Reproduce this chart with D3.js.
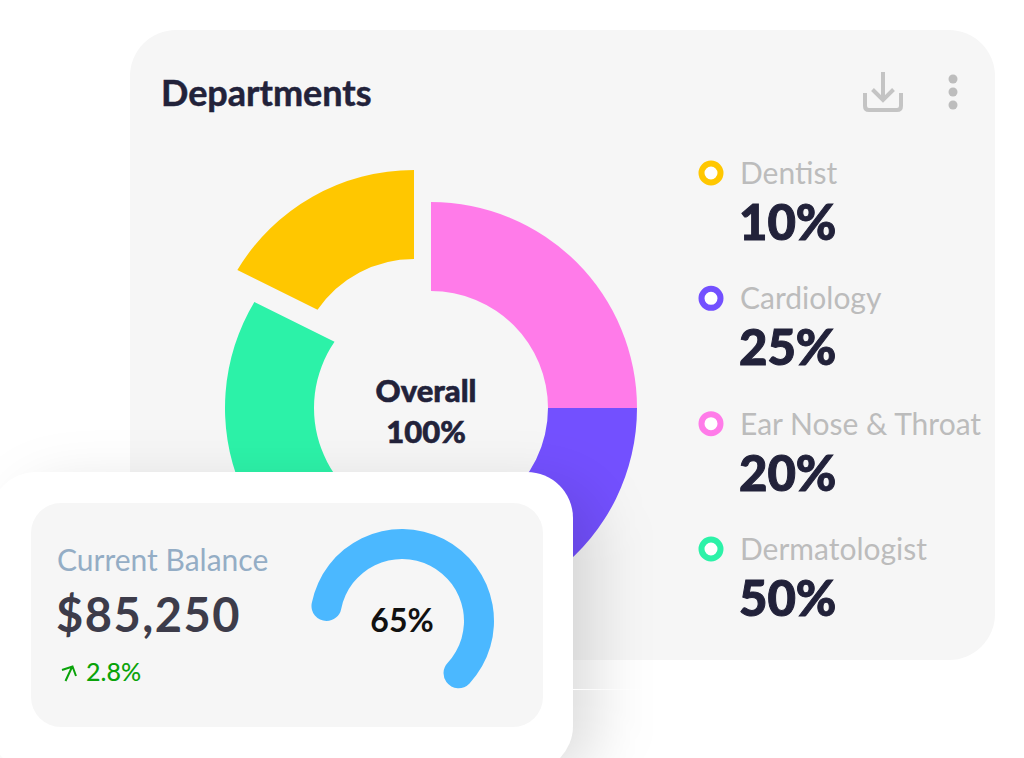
<!DOCTYPE html>
<html>
<head>
<meta charset="utf-8">
<script src="https://cdn.jsdelivr.net/npm/d3@7"></script>
<style>
  html, body { margin: 0; padding: 0; background: #fff; overflow: hidden; }
  text { font-family: Lato, "Noto Sans", sans-serif; }
</style>
</head>
<body>
<div id="chart"></div>
<script>
// legend rows
const departments = ["Dentist", "Cardiology", "Ear Nose & Throat", "Dermatologist"];
const legendValues = [10, 25, 20, 50];
const legendColors = ["#ffc700", "#7350ff", "#ff7be9", "#2cf2a8"];

// the slices as they are drawn, clockwise from 12 o'clock (they don't follow the legend)
const sliceNames = ["Ear Nose & Throat", "Cardiology", "Dermatologist", "Dentist"];
const sliceShares = [25, 29, 29.6, 16.4];

const gaugeValue = 65;
const balanceLabel = "Current Balance";
const balanceValue = 85250;
const balanceChange = 2.8;

const width = 1024, height = 758;
const svg = d3.select("#chart").append("svg")
    .attr("width", width)
    .attr("height", height)
    .style("display", "block");

const defs = svg.append("defs");
defs.append("filter").attr("id", "cardShadow")
    .attr("x", "-30%").attr("y", "-30%").attr("width", "160%").attr("height", "160%")
    .append("feGaussianBlur").attr("stdDeviation", 30);
const lineFade = defs.append("linearGradient").attr("id", "lineFade");
lineFade.append("stop").attr("offset", 0).attr("stop-color", "#fff");
lineFade.append("stop").attr("offset", 1).attr("stop-color", "#fff").attr("stop-opacity", 0);

// main card
svg.append("rect")
    .attr("x", 130).attr("y", 30)
    .attr("width", 865).attr("height", 630)
    .attr("rx", 46)
    .attr("fill", "#f6f6f6");

svg.append("text")
    .attr("x", 161).attr("y", 106)
    .attr("font-size", 36).attr("font-weight", 700)
    .attr("stroke", "#22223a").attr("stroke-width", 0.5)
    .attr("fill", "#22223a")
    .text("Departments");

// download icon
const icon = svg.append("g")
    .attr("fill", "none")
    .attr("stroke", "#c4c4c4")
    .attr("stroke-width", 4);
icon.append("path").attr("d", "M865 93V106Q865 110 869 110H897Q901 110 901 106V93");
icon.append("path").attr("d", "M883 72V100");
icon.append("path").attr("d", "M872.5 89.5L883 100L893.5 89.5");

// three dots
svg.selectAll(".menu-dot")
    .data([79, 92, 105])
    .enter().append("circle")
    .attr("class", "menu-dot")
    .attr("cx", 953).attr("cy", d => d)
    .attr("r", 4.5)
    .attr("fill", "#bdbdbd");

// donut
const donutColor = d3.scaleOrdinal().domain(departments).range(legendColors);
const pie = d3.pie().sort(null).value(d => d.share);
const slices = pie(sliceNames.map((name, i) => ({ name: name, share: sliceShares[i] })));
const innerR = 117, outerR = 206;
// the cut between Dermatologist and Dentist is not radial, it leans over at the inner edge
const cutLean = 3.5 * Math.PI / 180;

function ringPath(d) {
    const a0 = d.startAngle - Math.PI / 2, a1 = d.endAngle - Math.PI / 2;
    const in0 = d.data.name === "Dentist" ? a0 + cutLean : a0;
    const in1 = d.data.name === "Dermatologist" ? a1 + cutLean : a1;
    const p = d3.path();
    p.arc(0, 0, outerR, a0, a1);
    p.arc(0, 0, innerR, in1, in0, true);
    p.closePath();
    return p.toString();
}

const donut = svg.append("g").attr("transform", "translate(431,408)");
donut.selectAll("path")
    .data(slices)
    .enter().append("path")
    .attr("d", ringPath)
    .attr("fill", d => donutColor(d.data.name))
    // the Dentist slice is pulled out of the ring
    .attr("transform", d => d.data.name === "Dentist" ? "translate(-17,-32)" : null);

donut.append("text")
    .attr("x", -5).attr("y", -6)
    .attr("text-anchor", "middle")
    .attr("font-size", 31).attr("font-weight", 900)
    .attr("stroke", "#22223a").attr("stroke-width", 0.6)
    .attr("fill", "#22223a")
    .text("Overall");
donut.append("text")
    .attr("x", -5).attr("y", 35)
    .attr("text-anchor", "middle")
    .attr("font-size", 31).attr("font-weight", 900)
    .attr("stroke", "#22223a").attr("stroke-width", 0.6)
    .attr("fill", "#22223a")
    .text("100%");

// legend
const legendY = d3.scalePoint().domain(departments).range([173, 549]);
const rows = svg.selectAll(".legend-row")
    .data(departments)
    .enter().append("g")
    .attr("class", "legend-row")
    .attr("transform", d => `translate(0,${legendY(d)})`);
rows.append("circle")
    .attr("cx", 711).attr("cy", 0)
    .attr("r", 9.5)
    .attr("fill", "#fff")
    .attr("stroke", d => donutColor(d))
    .attr("stroke-width", 6);
rows.append("text")
    .attr("x", 740).attr("y", 11)
    .attr("font-size", 30)
    .attr("fill", "#bcbcbc")
    .text(d => d);
rows.append("text")
    .attr("x", 739).attr("y", 67)
    .attr("font-size", 49).attr("font-weight", 900)
    .attr("stroke", "#22223a").attr("stroke-width", 1)
    .attr("fill", "#22223a")
    .text((d, i) => legendValues[i] + "%");

// balance card, with its soft shadow first
svg.append("rect")
    .attr("x", 20).attr("y", 490)
    .attr("width", 573).attr("height", 286)
    .attr("rx", 46)
    .attr("fill", "#000")
    .attr("fill-opacity", 0.14)
    .attr("filter", "url(#cardShadow)");
// thin pale line that runs out from under the card
svg.append("rect")
    .attr("x", 573).attr("y", 689)
    .attr("width", 90).attr("height", 1)
    .attr("fill", "url(#lineFade)");
svg.append("rect")
    .attr("x", -10).attr("y", 472)
    .attr("width", 583).attr("height", 300)
    .attr("rx", 46)
    .attr("fill", "#fff");
svg.append("rect")
    .attr("x", 31).attr("y", 503)
    .attr("width", 512).attr("height", 224)
    .attr("rx", 30)
    .attr("fill", "#f6f6f6");

svg.append("text")
    .attr("x", 57).attr("y", 571)
    .attr("font-size", 30)
    .attr("fill", "#94adc5")
    .text(balanceLabel);
svg.append("text")
    .attr("x", 56).attr("y", 632)
    .attr("font-size", 47).attr("font-weight", 700)
    .attr("letter-spacing", 1.5)
    .attr("fill", "#3d3c4a")
    .text(d3.format("$,")(balanceValue));

svg.append("path")
    .attr("d", "M65.5 681L72 667M62 670L72.5 666.5L76 676")
    .attr("fill", "none")
    .attr("stroke", "#0aa30a")
    .attr("stroke-width", 2);
svg.append("text")
    .attr("x", 86).attr("y", 681)
    .attr("font-size", 25).attr("font-weight", 500)
    .attr("fill", "#0aa30a")
    .text(balanceChange + "%");

// gauge, starts at 9 o'clock
const gaugeAngle = d3.scaleLinear().domain([0, 100]).range([-Math.PI / 2, 1.5 * Math.PI]);
const gaugeArc = d3.arc()
    .innerRadius(62).outerRadius(92)
    .cornerRadius(15)
    .startAngle(gaugeAngle(0))
    .endAngle(gaugeAngle(gaugeValue));
const gauge = svg.append("g").attr("transform", "translate(402,621)");
gauge.append("path").attr("d", gaugeArc()).attr("fill", "#4bb8ff");
gauge.append("text")
    .attr("y", 11)
    .attr("text-anchor", "middle")
    .attr("font-size", 32).attr("font-weight", 700)
    .attr("fill", "#111")
    .text(gaugeValue + "%");
</script>
</body>
</html>
